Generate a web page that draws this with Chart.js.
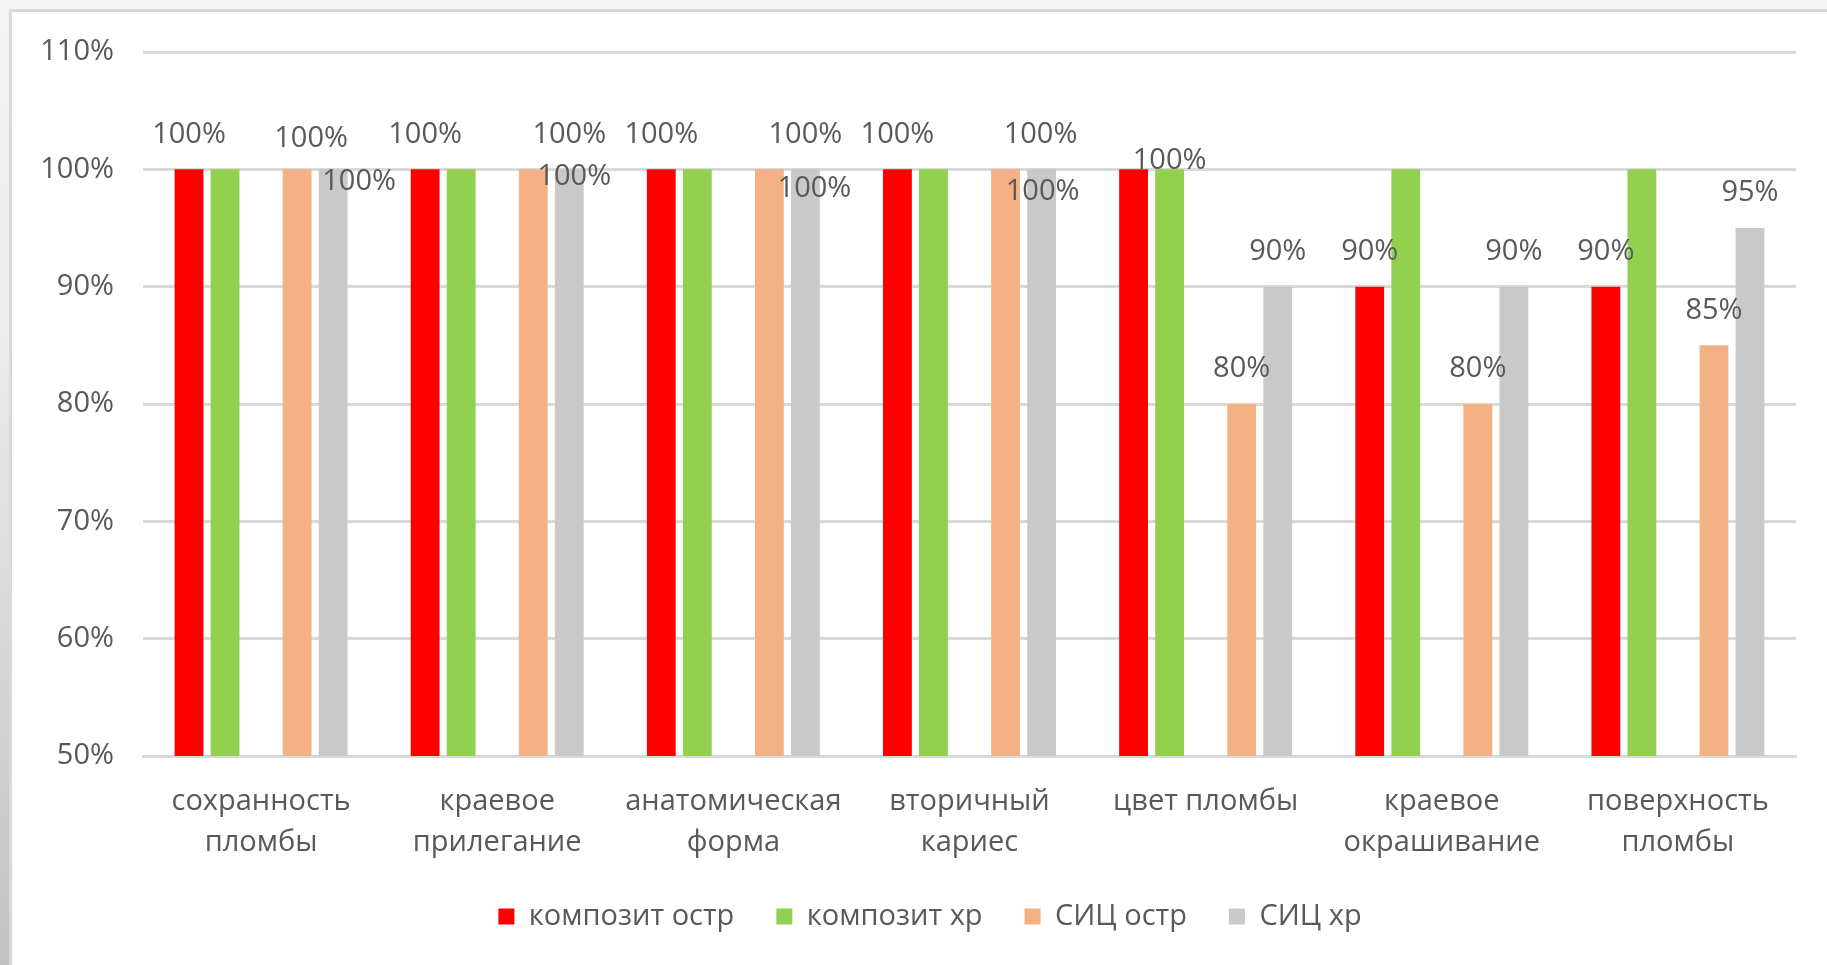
<!DOCTYPE html>
<html lang="ru">
  <head>
    <meta charset="UTF-8" />
    <title>Оценка пломб</title>
    <script src="https://cdn.jsdelivr.net/npm/chart.js"></script>
    <style>
      html, body {
        margin: 0;
        padding: 0;
        width: 1827px;
        height: 965px;
        overflow: hidden;
        background: linear-gradient(to bottom, #f4f4f4 0%, #ececec 35%, #c2c2c2 100%);
      }
      .frame {
        position: absolute;
        left: 9px;
        top: 9px;
        width: 1830px;
        height: 970px;
        background: #fff;
        border-top: 3px solid #d9d9d9;
        border-left: 3px solid #d9d9d9;
      }
      .wrap {
        position: absolute;
        left: 0;
        top: 0;
        width: 1827px;
        height: 941px;
      }
    </style>
  </head>
  <body>
    <div class="frame"></div>
    <div class="wrap"><canvas id="chart"></canvas></div>

    <script>
      const categories = [
        ['сохранность', 'пломбы'],
        ['краевое', 'прилегание'],
        ['анатомическая', 'форма'],
        ['вторичный', 'кариес'],
        'цвет пломбы',
        ['краевое', 'окрашивание'],
        ['поверхность', 'пломбы']
      ];
      const seriesNames = ['композит остр', 'композит хр', 'СИЦ остр', 'СИЦ хр'];
      const kompozitOstr = [100, 100, 100, 100, 100, 90, 90];
      const kompozitHr = [100, 100, 100, 100, 100, 100, 100];
      const spacer = [null, null, null, null, null, null, null];
      const sicOstr = [100, 100, 100, 100, 80, 80, 85];
      const sicHr = [100, 100, 100, 100, 90, 90, 95];

      const textColor = '#595959';
      const gridColor = '#d9d9d9';

      // label nudges per dataset / category (Excel had them dragged around), null = no label
      const labelShift = {
        0: { 4: null },
        1: { 0: null, 1: null, 2: null, 3: null, 4: [0, 26], 5: null, 6: null },
        3: { 0: [14, 4], 1: [36, 0], 2: [36, 0], 3: [35, 0] },
        4: { 0: [26, 47], 1: [5, 42], 2: [9, 54], 3: [1, 57] }
      };

      const valueLabels = {
        id: 'valueLabels',
        afterDatasetsDraw(chart) {
          const ctx = chart.ctx;
          ctx.save();
          ctx.font = "29px 'Open Sans'";
          ctx.fillStyle = textColor;
          ctx.textAlign = 'center';
          ctx.textBaseline = 'middle';
          chart.data.datasets.forEach((ds, di) => {
            const meta = chart.getDatasetMeta(di);
            meta.data.forEach((bar, i) => {
              const v = ds.data[i];
              if (v === null || v === undefined) return;
              let shift = [0, 0];
              if (labelShift[di] && i in labelShift[di]) {
                shift = labelShift[di][i];
                if (shift === null) return;
              }
              ctx.fillText(v + '%', bar.x + shift[0], bar.y - 35 + shift[1]);
            });
          });
          ctx.restore();
        }
      };

      // legend in the original sits centred a bit right of the canvas middle
      const legendShift = {
        id: 'legendShift',
        afterLayout(chart) {
          if (chart.legend) {
            chart.legend.left += 32;
            chart.legend.right += 32;
          }
        }
      };

      Chart.defaults.font.family = "'Open Sans'";
      Chart.defaults.font.size = 29;
      Chart.defaults.color = textColor;

      const barStyle = { categoryPercentage: 0.763, barPercentage: 0.8, borderWidth: 0 };

      new Chart(document.getElementById('chart'), {
        type: 'bar',
        data: {
          labels: categories,
          datasets: [
            { label: seriesNames[0], data: kompozitOstr, backgroundColor: '#ff0000', ...barStyle },
            { label: seriesNames[1], data: kompozitHr, backgroundColor: '#92d050', ...barStyle },
            { label: '', data: spacer, backgroundColor: 'rgba(0,0,0,0)', ...barStyle },
            { label: seriesNames[2], data: sicOstr, backgroundColor: '#f4b183', ...barStyle },
            { label: seriesNames[3], data: sicHr, backgroundColor: '#c9c9c9', ...barStyle }
          ]
        },
        options: {
          responsive: true,
          maintainAspectRatio: false,
          animation: false,
          layout: { padding: { left: 0, right: 31, top: 52, bottom: 0 } },
          plugins: {
            tooltip: { enabled: false },
            legend: {
              position: 'bottom',
              labels: {
                boxWidth: 16,
                boxHeight: 16,
                padding: 42,
                color: textColor,
                font: { size: 29 },
                filter: item => item.text !== ''
              }
            }
          },
          scales: {
            x: {
              grid: { display: false, drawTicks: false },
              border: { display: true, color: gridColor, width: 3 },
              ticks: { padding: 25, color: textColor, maxRotation: 0, autoSkip: false, font: { size: 29, lineHeight: 1.41 } },
              afterFit: scale => { scale.height = 104; }
            },
            y: {
              min: 50,
              max: 110,
              grid: { color: gridColor, lineWidth: 3, drawTicks: false },
              border: { display: false },
              ticks: { stepSize: 10, padding: 29, color: textColor, callback: v => v + '%' },
              afterFit: scale => { scale.width = 143; }
            }
          }
        },
        plugins: [valueLabels, legendShift]
      });
    </script>
  </body>
</html>
